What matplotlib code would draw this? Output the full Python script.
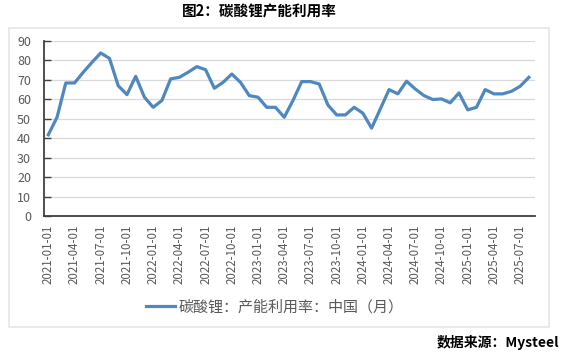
import matplotlib
matplotlib.use("Agg")
import matplotlib.pyplot as plt
from matplotlib.patches import Rectangle
import pandas as pd

plt.rcParams['font.family'] = ['Noto Sans CJK SC', 'DejaVu Sans']

# monthly capacity utilisation (%), 2021-01 .. 2025-08
months = pd.date_range("2021-01-01", "2025-08-01", freq="MS")
utilisation = [
    41.7, 50.7, 68.3, 68.3, 73.8, 78.9, 83.7, 80.9, 66.9, 62.3, 71.7, 61.0,
    55.8, 59.3, 70.4, 71.2, 73.8, 76.7, 75.1, 65.6, 68.6, 72.9, 68.6, 61.8,
    61.0, 55.8, 55.8, 50.7, 59.3, 69.0, 69.0, 67.8, 57.0, 51.9, 51.9, 55.8,
    52.8, 45.1, 55.0, 64.9, 62.7, 69.2, 65.2, 61.8, 59.8, 60.1, 58.1, 63.2,
    54.5, 55.8, 64.9, 62.7, 62.7, 64.0, 66.6, 71.2,
]
tick_labels = [d.strftime("%Y-%m-%d") for d in months[::3]]
y_ticks = list(range(0, 100, 10))

title = "图2：碳酸锂产能利用率"
series_name = "碳酸锂：产能利用率：中国（月）"
source = "数据来源：Mysteel"

fig = plt.figure(figsize=(5.67, 3.57), dpi=100)
fig.patches.append(Rectangle((9 / 567, 1 - 327 / 357), 540 / 567, 299 / 357,
                             transform=fig.transFigure, fill=False,
                             edgecolor="#e6e6e6", linewidth=1.2))

ax = fig.add_axes([43.5 / 567, 1 - 216 / 357, (535 - 43.5) / 567, (216 - 40.7) / 357])
x = list(range(len(months)))
ax.plot(x, utilisation, color="#4f87bf", linewidth=2.3, label=series_name,
        solid_joinstyle="round", zorder=3)

ax.set_xlim(-0.55, 55.7)
ax.set_ylim(0, 90)
ax.set_yticks(y_ticks)
ax.set_xticks(x[::3])
ax.set_xticklabels(tick_labels, rotation=90, fontsize=8.3, color="#595959")
ax.tick_params(axis="x", length=0, pad=6)
ax.tick_params(axis="y", direction="in", length=5, width=1, color="#404040",
               labelsize=9, labelcolor="#595959", pad=9)
ax.grid(axis="y", color="#d9d9d9", linewidth=0.9)
ax.set_axisbelow(True)
for side in ("top", "right"):
    ax.spines[side].set_visible(False)
for side in ("left", "bottom"):
    ax.spines[side].set_color("#404040")
    ax.spines[side].set_linewidth(1.3)

fig.legend(loc="center", bbox_to_anchor=(275 / 567, 1 - 307 / 357), frameon=False,
           fontsize=10.8, handlelength=1.95, handletextpad=0.25, labelcolor="#595959")

fig.text(259 / 567, 1 - 12 / 357, title, ha="center", va="center",
         fontsize=10.5, fontweight="bold")
fig.text(559 / 567, 1 - 343 / 357, source, ha="right", va="center",
         fontsize=10, fontweight="bold")

fig.savefig("out.png", dpi=100)
